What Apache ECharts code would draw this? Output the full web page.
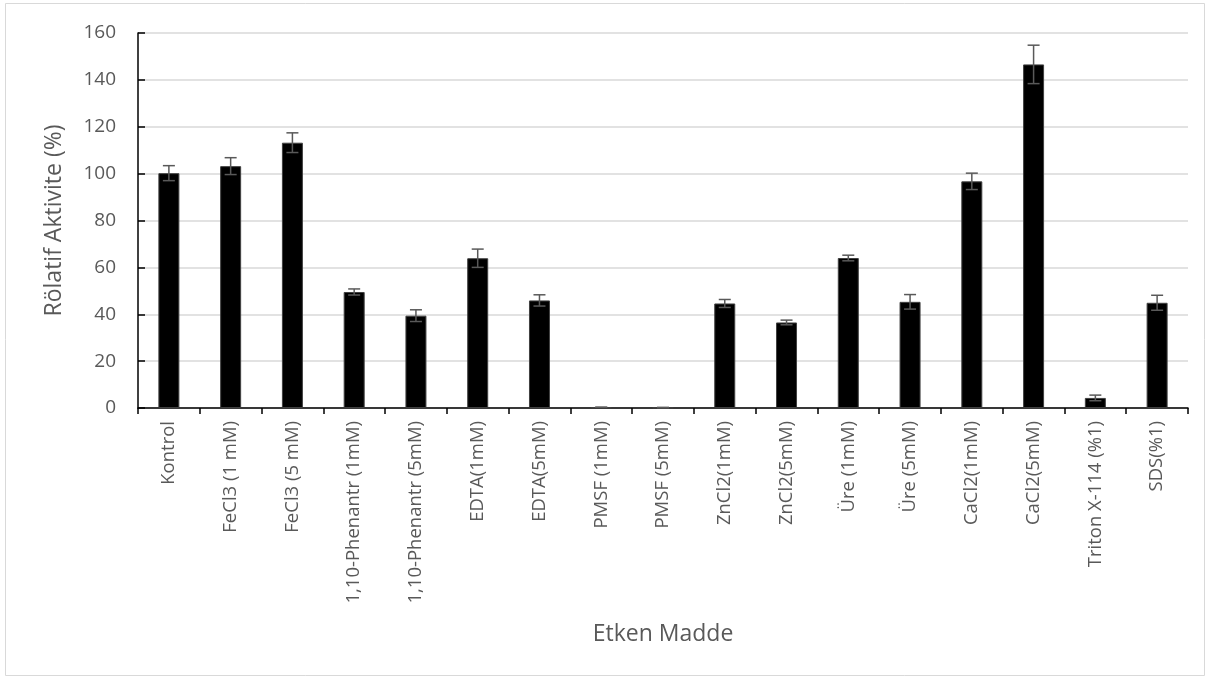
<!DOCTYPE html>
<html>
<head>
<meta charset="utf-8">
<script src="https://cdn.jsdelivr.net/npm/echarts@6/dist/echarts.min.js"></script>
<style>
  html, body { margin: 0; padding: 0; background: #fff; }
  #chart { width: 1210px; height: 679px; }
</style>
</head>
<body>
<div id="chart"></div>
<script>
// Relative activity of the enzyme in the presence of each agent
const categories = [
  'Kontrol', 'FeCl3 (1 mM)', 'FeCl3 (5 mM)', '1,10-Phenantr (1mM)', '1,10-Phenantr (5mM)',
  'EDTA(1mM)', 'EDTA(5mM)', 'PMSF (1mM)', 'PMSF (5mM)', 'ZnCl2(1mM)', 'ZnCl2(5mM)',
  'Üre (1mM)', 'Üre (5mM)', 'CaCl2(1mM)', 'CaCl2(5mM)', 'Triton X-114 (%1)', 'SDS(%1)'
];
const activity = [100.2, 103.2, 113.2, 49.5, 39.4, 63.9, 45.9, 0.3, 0.2, 44.6, 36.5, 64.0, 45.3, 96.7, 146.6, 4.3, 44.9];
const errors   = [3.2, 3.6, 4.2, 1.3, 2.5, 3.9, 2.4, 0, 0, 1.7, 1.0, 1.2, 3.1, 3.5, 8.2, 1.2, 3.2];
const yTicks = { min: 0, max: 160, interval: 20 };

const errorData = activity.map((v, i) => [i, v - errors[i], v + errors[i]]);

const textColor = '#595959';
const fontFamily = '"Open Sans", "Noto Sans", sans-serif';

const chart = echarts.init(document.getElementById('chart'), null, { renderer: 'canvas' });

chart.setOption({
  animation: false,
  backgroundColor: '#fff',
  textStyle: { fontFamily: fontFamily },
  graphic: [{
    type: 'rect',
    shape: { x: 5.5, y: 3.5, width: 1199, height: 672 },
    style: { fill: 'none', stroke: '#d9d9d9', lineWidth: 1 },
    silent: true
  }],
  grid: { left: 138, right: 22, top: 33, bottom: 271, containLabel: false },
  xAxis: {
    type: 'category',
    data: categories,
    boundaryGap: true,
    name: 'Etken Madde',
    nameLocation: 'middle',
    nameGap: 215,
    nameTextStyle: { color: textColor, fontSize: 23, fontFamily: fontFamily },
    axisLine: { show: true, lineStyle: { color: '#000', width: 1.5 } },
    axisTick: { show: true, alignWithLabel: false, length: 6, inside: false, lineStyle: { color: '#000', width: 1.5 } },
    axisLabel: { rotate: 90, color: textColor, fontSize: 18.5, margin: 13, interval: 0, fontFamily: fontFamily },
    splitLine: { show: false }
  },
  yAxis: {
    type: 'value',
    min: yTicks.min,
    max: yTicks.max,
    interval: yTicks.interval,
    name: 'Rölatif Aktivite (%)',
    nameLocation: 'middle',
    nameGap: 72,
    nameTextStyle: { color: textColor, fontSize: 23, fontFamily: fontFamily },
    axisLine: { show: true, lineStyle: { color: '#000', width: 1.5 } },
    axisTick: { show: true, inside: true, length: 7, lineStyle: { color: '#000', width: 1.5 } },
    axisLabel: { color: textColor, fontSize: 19, margin: 22, fontFamily: fontFamily },
    splitLine: { show: true, lineStyle: { color: '#d9d9d9', width: 1.5 } }
  },
  series: [
    {
      type: 'bar',
      data: activity,
      barWidth: 21,
      itemStyle: { color: '#000', borderColor: '#404040', borderWidth: 1 },
      z: 2
    },
    {
      type: 'custom',
      data: errorData,
      z: 3,
      renderItem: function (params, api) {
        const idx = api.value(0);
        const lo = api.coord([idx, api.value(1)]);
        const hi = api.coord([idx, api.value(2)]);
        const half = 6;
        const style = { stroke: '#595959', lineWidth: 1.5 };
        return {
          type: 'group',
          children: [
            { type: 'line', shape: { x1: hi[0], y1: hi[1], x2: lo[0], y2: lo[1] }, style: style },
            { type: 'line', shape: { x1: hi[0] - half, y1: hi[1], x2: hi[0] + half, y2: hi[1] }, style: style },
            { type: 'line', shape: { x1: lo[0] - half, y1: lo[1], x2: lo[0] + half, y2: lo[1] }, style: style }
          ]
        };
      }
    }
  ]
});
</script>
</body>
</html>
